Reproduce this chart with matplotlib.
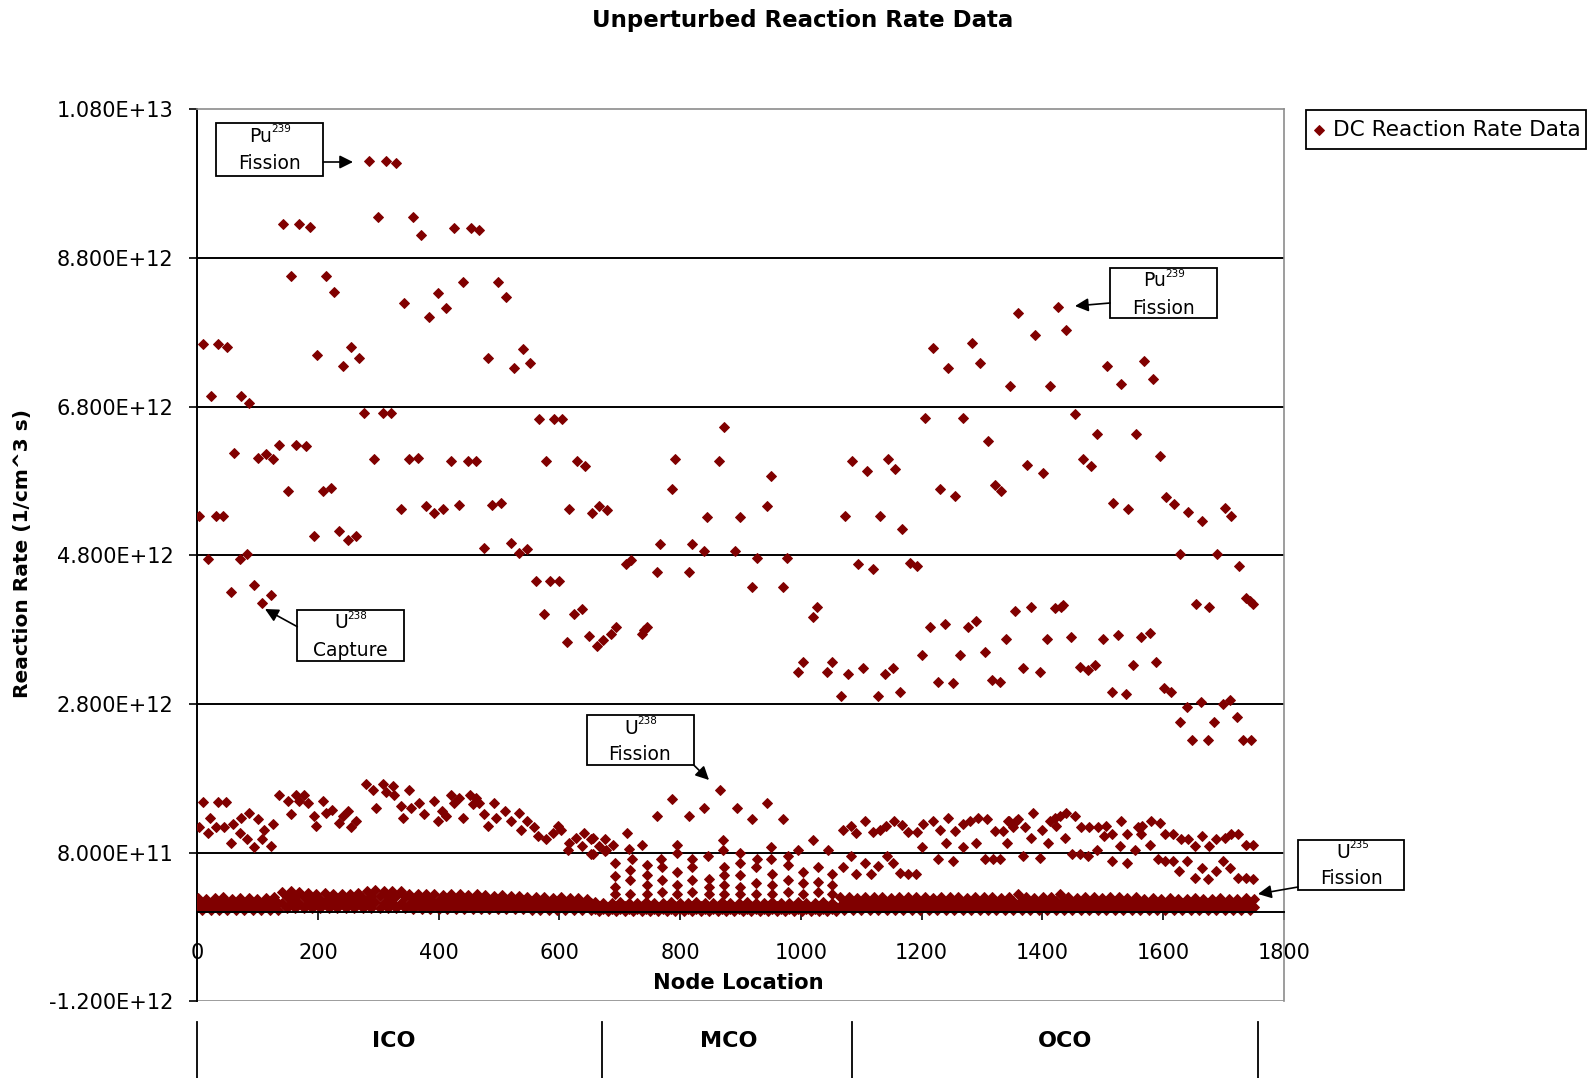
import numpy as np
import matplotlib
matplotlib.use("Agg")
import matplotlib.pyplot as plt
from matplotlib.patches import Rectangle

# ---------------------------------------------------------------------------
# Reaction rates, in units of 1E12 1/(cm^3 s), keyed by node location
# ---------------------------------------------------------------------------
# Pu-239 fission and U-238 capture rates (upper cloud)
ico_upper = [
    (285, 10.11), (313, 10.11), (329, 10.07),
    (142, 9.26), (169, 9.26), (186, 9.22), (299, 9.35), (357, 9.35), (371, 9.11),
    (425, 9.20), (453, 9.20), (467, 9.17),
    (155, 8.56), (213, 8.56), (227, 8.34), (343, 8.20), (398, 8.33), (412, 8.12), (384, 8.01),
    (440, 8.48), (498, 8.48), (511, 8.28),
    (9, 7.64), (34, 7.64), (49, 7.60), (199, 7.49), (255, 7.60), (268, 7.46), (241, 7.35),
    (481, 7.46), (539, 7.57), (552, 7.39), (525, 7.32),
    (23, 6.94), (72, 6.94), (86, 6.85), (277, 6.72), (307, 6.72), (321, 6.72),
    (566, 6.63), (591, 6.63), (605, 6.63),
    (61, 6.18), (100, 6.11), (114, 6.16), (125, 6.09), (136, 6.29), (164, 6.29), (180, 6.27),
    (293, 6.09), (351, 6.09), (365, 6.11), (420, 6.07), (448, 6.07), (462, 6.07),
    (577, 6.07), (629, 6.07), (643, 6.00),
    (150, 5.66), (208, 5.66), (222, 5.71), (3, 5.33), (31, 5.33), (43, 5.33),
    (194, 5.06), (235, 5.13), (249, 5.00), (263, 5.06),
    (337, 5.42), (379, 5.46), (393, 5.37), (407, 5.42), (434, 5.48), (489, 5.48), (503, 5.51),
    (616, 5.42), (654, 5.37), (665, 5.46), (678, 5.41),
    (17, 4.75), (70, 4.75), (82, 4.82), (475, 4.90), (520, 4.97), (533, 4.83), (547, 4.88),
    (56, 4.31), (94, 4.40), (122, 4.26), (108, 4.16),
    (561, 4.45), (585, 4.45), (599, 4.45), (574, 4.01), (624, 4.01), (638, 4.08),
    (613, 3.63), (649, 3.72), (663, 3.58), (673, 3.66),
]
mco_upper = [
    (686, 3.74), (694, 3.84), (736, 3.74), (745, 3.84), (740, 3.79),
    (710, 4.68), (718, 4.74), (761, 4.57), (814, 4.57),
    (767, 4.95), (819, 4.95), (839, 4.86), (891, 4.86), (927, 4.77), (977, 4.77),
    (919, 4.37), (971, 4.37), (844, 5.31), (899, 5.31),
    (787, 5.69), (792, 6.09), (864, 6.07), (872, 6.52), (944, 5.46), (951, 5.87),
    (1026, 4.10), (1020, 3.97), (1004, 3.37), (996, 3.23), (1051, 3.37), (1043, 3.23),
]
oco_upper = [
    (1078, 3.21), (1103, 3.28), (1139, 3.21), (1153, 3.28),
    (1067, 2.91), (1128, 2.91), (1164, 2.96),
    (1200, 3.46), (1214, 3.84), (1239, 3.88), (1227, 3.10), (1252, 3.08), (1263, 3.46),
    (1277, 3.84), (1291, 3.91), (1305, 3.50), (1316, 3.12), (1330, 3.10), (1340, 3.68),
    (1073, 5.33), (1131, 5.33), (1167, 5.15),
    (1095, 4.68), (1120, 4.61), (1181, 4.70), (1193, 4.66),
    (1084, 6.07), (1109, 5.93), (1145, 6.09), (1156, 5.96),
    (1230, 5.69), (1255, 5.60), (1321, 5.75), (1332, 5.66),
    (1205, 6.65), (1269, 6.65), (1310, 6.34),
    (1219, 7.59), (1283, 7.66), (1244, 7.32), (1297, 7.39),
    (1346, 7.08), (1360, 8.06), (1426, 8.14), (1388, 7.76), (1440, 7.83), (1412, 7.08),
    (1507, 7.35), (1569, 7.41), (1531, 7.10), (1584, 7.17),
    (1454, 6.70), (1491, 6.43), (1555, 6.43), (1595, 6.13),
    (1374, 6.02), (1401, 5.91), (1467, 6.09), (1480, 6.00),
    (1517, 5.51), (1542, 5.42), (1605, 5.58), (1618, 5.49), (1642, 5.38), (1665, 5.26),
    (1702, 5.44), (1713, 5.33),
    (1629, 4.82), (1690, 4.82), (1726, 4.66),
    (1737, 4.22), (1744, 4.19), (1749, 4.15), (1654, 4.15), (1676, 4.10),
    (1355, 4.05), (1382, 4.10), (1421, 4.09), (1431, 4.11), (1434, 4.13),
    (1407, 3.68), (1448, 3.70), (1501, 3.68), (1526, 3.73), (1564, 3.70), (1578, 3.75),
    (1368, 3.28), (1396, 3.23), (1462, 3.30), (1476, 3.26), (1487, 3.32), (1550, 3.32), (1589, 3.37),
    (1515, 2.96), (1538, 2.94), (1602, 3.02), (1614, 2.96),
    (1639, 2.76), (1663, 2.83), (1700, 2.80), (1711, 2.85),
    (1628, 2.56), (1685, 2.56), (1722, 2.63),
    (1648, 2.31), (1675, 2.31), (1732, 2.31), (1746, 2.31),
]

# U-238 fission rates (middle band)
ico_u238f = [
    (9, 1.48), (34, 1.48), (48, 1.48), (21, 1.27), (3, 1.14), (17, 1.07), (31, 1.14), (45, 1.14),
    (59, 1.18), (56, 0.93), (72, 1.27), (86, 1.34), (100, 1.25), (70, 1.07), (83, 0.98), (94, 0.87),
    (108, 0.98), (111, 1.11), (122, 0.89), (125, 1.18),
    (136, 1.58), (150, 1.49), (163, 1.58), (177, 1.58), (155, 1.32), (169, 1.49), (183, 1.47),
    (208, 1.49), (194, 1.29), (197, 1.16), (213, 1.34), (224, 1.38), (235, 1.20), (249, 1.36),
    (255, 1.14), (263, 1.23), (241, 1.29),
    (279, 1.72), (291, 1.65), (307, 1.72), (324, 1.70), (313, 1.61), (326, 1.58), (296, 1.40),
    (351, 1.65), (337, 1.43), (340, 1.27), (354, 1.40), (368, 1.47), (376, 1.32), (393, 1.49),
    (398, 1.23), (406, 1.36), (412, 1.29),
    (420, 1.58), (426, 1.47), (434, 1.54), (451, 1.58), (462, 1.54), (456, 1.45), (467, 1.47),
    (440, 1.27), (475, 1.32), (481, 1.16), (492, 1.47), (495, 1.27), (509, 1.36), (520, 1.23),
    (533, 1.34), (536, 1.11), (547, 1.23),
    (558, 1.14), (564, 1.02), (578, 0.98), (589, 1.07), (597, 1.16), (602, 1.11), (616, 0.93),
    (614, 0.84), (627, 1.00), (641, 1.07), (638, 0.89), (652, 0.98), (652, 0.78), (666, 0.89),
    (677, 0.84),
]
mco_u238f = [
    (866, 1.65), (786, 1.52), (839, 1.40), (894, 1.40), (944, 1.47), (971, 1.25), (761, 1.29),
    (814, 1.29), (919, 1.25),
    (656, 1.00), (675, 0.98), (689, 0.91), (655, 0.78), (675, 0.82), (712, 1.07), (737, 0.91),
    (715, 0.85), (720, 0.72),
    (794, 0.90), (794, 0.79), (769, 0.72), (819, 0.72), (846, 0.75), (871, 0.97), (871, 0.84),
    (899, 0.79), (927, 0.72), (951, 0.88), (951, 0.72), (979, 0.75), (996, 0.84), (1020, 0.97),
    (1045, 0.84),
]
mco_low = [
    (692, 0.66), (692, 0.48), (692, 0.34), (692, 0.25), (717, 0.57), (717, 0.43), (717, 0.25),
    (745, 0.63), (745, 0.50), (745, 0.36), (745, 0.25), (770, 0.61), (770, 0.43), (770, 0.27),
    (795, 0.54), (795, 0.36), (795, 0.25), (819, 0.61), (819, 0.43), (819, 0.27),
    (848, 0.45), (848, 0.34), (848, 0.25), (873, 0.61), (873, 0.50), (873, 0.36), (873, 0.25),
    (899, 0.66), (899, 0.50), (899, 0.34), (899, 0.25), (926, 0.61), (926, 0.39), (926, 0.25),
    (952, 0.52), (952, 0.36), (952, 0.25), (979, 0.63), (979, 0.43), (979, 0.27),
    (1004, 0.54), (1004, 0.39), (1004, 0.25), (1029, 0.61), (1029, 0.41), (1029, 0.27),
    (1052, 0.52), (1052, 0.36), (1052, 0.25),
]
oco_u238f = [
    (1069, 1.11), (1083, 1.16), (1092, 1.06), (1106, 1.23), (1120, 1.08), (1131, 1.11),
    (1141, 1.16), (1155, 1.23), (1167, 1.17), (1178, 1.08), (1192, 1.08), (1203, 1.18),
    (1219, 1.22), (1230, 1.10), (1244, 1.27), (1255, 1.09), (1269, 1.18), (1280, 1.23),
    (1293, 1.27), (1308, 1.25), (1321, 1.09), (1335, 1.09), (1343, 1.23),
    (1345, 1.23), (1357, 1.23), (1351, 1.14), (1360, 1.25), (1371, 1.14), (1385, 1.34),
    (1399, 1.11), (1382, 1.00), (1341, 0.93), (1409, 0.93), (1412, 1.23), (1421, 1.27),
    (1429, 1.29), (1422, 1.16), (1439, 1.34), (1454, 1.29), (1437, 1.00), (1464, 1.14),
    (1478, 1.14), (1492, 1.14), (1505, 1.16), (1502, 1.02), (1516, 1.05), (1531, 1.23),
    (1541, 1.05), (1558, 1.14), (1566, 1.16), (1563, 1.05), (1580, 1.23), (1595, 1.20),
    (1604, 1.05), (1617, 1.05), (1630, 0.98), (1641, 0.98), (1653, 0.89), (1665, 1.02),
    (1677, 0.89), (1688, 0.98), (1702, 1.00), (1713, 1.05), (1724, 1.05), (1738, 0.91),
    (1749, 0.91),
    (1070, 0.61), (1083, 0.75), (1092, 0.51), (1106, 0.66), (1117, 0.51), (1128, 0.62),
    (1142, 0.75), (1153, 0.66), (1164, 0.53), (1178, 0.51), (1190, 0.51), (1200, 0.87),
    (1227, 0.71), (1240, 0.93), (1252, 0.69), (1268, 0.87), (1291, 0.93), (1305, 0.71),
    (1318, 0.71), (1330, 0.71),
    (1368, 0.75), (1396, 0.73), (1450, 0.78), (1462, 0.78), (1476, 0.75), (1490, 0.84),
    (1515, 0.69), (1529, 0.89), (1540, 0.66), (1554, 0.84), (1578, 0.91), (1591, 0.71),
    (1603, 0.69), (1617, 0.69), (1627, 0.55), (1639, 0.69), (1653, 0.46), (1664, 0.60),
    (1675, 0.44), (1688, 0.55), (1699, 0.69), (1711, 0.60), (1724, 0.46), (1738, 0.46),
    (1749, 0.44),
]

# Low-rate band (U-235 fission and minor reactions), sampled on two interleaved node sets
band_nodes_a = list(range(1, 1752, 14))
band_nodes_b = list(range(8, 1745, 14))
u235_fission = [
    .19, .18, .19, .20, .18, .19, .19, .18, .19, .20,
    .27, .28, .27, .26,
    .25, .26, .25, .24, .25, .26,
    .29, .30, .28, .29, .28,
    .25, .24, .25, .24, .23, .24, .24, .23, .24, .23, .22, .23, .22, .22,
    .21, .20, .20, .19, .20, .19, .19, .18,
    .14, .13, .13, .14, .13, .13, .14, .13, .13, .14, .13, .13, .14, .13, .13,
    .14, .13, .13, .14, .13, .13, .14, .13, .13, .14, .13, .13, .14, .13,
    .20, .21, .19, .20, .21, .20, .19, .20, .21, .20, .20, .19, .21, .20, .20, .19, .20, .21,
    .20, .19, .21, .24, .20, .19, .20, .21, .24, .20, .19, .20, .20, .19, .21, .20,
    .19, .20, .18, .19, .18, .19, .18, .18, .19, .18, .18, .19, .18, .18, .19, .18,
]
u235_capture = [
    .13, .12, .13, .13, .12, .13, .13, .12, .13, .13,
    .20, .21, .20, .19,
    .18, .19, .18, .18, .19, .19,
    .22, .22, .21, .22, .21,
    .18, .18, .18, .17, .17, .18, .17, .17, .17, .17, .16, .16, .16, .16,
    .15, .14, .14, .14, .14, .13, .13, .13,
    .08, .07, .08, .08, .07, .08, .08, .07, .08, .08, .07, .08, .08, .07, .08,
    .08, .07, .08, .08, .07, .08, .08, .07, .08, .08, .07, .08, .08, .07,
    .14, .14, .13, .14, .15, .14, .13, .14, .14, .14, .15, .13, .14, .14, .14, .13, .14, .15,
    .14, .13, .15, .17, .14, .13, .14, .15, .17, .14, .13, .14, .14, .13, .15, .14,
    .13, .14, .12, .13, .12, .13, .12, .12, .13, .12, .12, .13, .12, .12, .13,
]
pu240_capture = [
    .07, .07, .07, .07, .07, .07, .07, .07, .07, .07,
    .13, .13, .13, .13,
    .13, .13, .13, .13, .13, .13,
    .14, .14, .13, .14, .13,
    .11, .11, .11, .11, .11, .11, .11, .11, .11, .11, .11, .11, .11, .11,
    .08, .08, .08, .08, .08, .08, .08, .08,
    .04, .04, .04, .04, .04, .04, .04, .04, .04, .04, .04, .04, .04, .04, .04,
    .04, .04, .04, .04, .04, .04, .04, .04, .04, .04, .04, .04, .04, .04,
    .08, .08, .08, .08, .08, .08, .08, .08, .08, .08, .08, .08, .08, .08, .08, .08, .08, .08,
    .08, .08, .08, .09, .08, .08, .08, .08, .09, .08, .08, .08, .08, .08, .08, .08,
    .08, .08, .07, .08, .07, .08, .07, .07, .08, .07, .07, .08, .07, .07, .08, .07,
]
pu241_fission = [
    .03, .03, .03, .03, .03, .03, .03, .03, .03, .03,
    .05, .05, .05, .05,
    .05, .05, .05, .05, .05, .05,
    .05, .05, .05, .05, .05,
    .04, .04, .04, .04, .04, .04, .04, .04, .04, .04, .04, .04, .04, .04,
    .03, .03, .03, .03, .03, .03, .03, .03,
    .02, .02, .02, .02, .02, .02, .02, .02, .02, .02, .02, .02, .02, .02, .02,
    .02, .02, .02, .02, .02, .02, .02, .02, .02, .02, .02, .02, .02, .02,
    .03, .03, .03, .03, .03, .03, .03, .03, .03, .03, .03, .03, .03, .03, .03, .03, .03, .03,
    .03, .03, .03, .03, .03, .03, .03, .03, .03, .03, .03, .03, .03, .03, .03, .03,
    .03, .03, .03, .03, .03, .03, .03, .03, .03, .03, .03, .03, .03, .03, .03,
]

y_ticks = [-1.2, 0.8, 2.8, 4.8, 6.8, 8.8, 10.8]
x_ticks = [0, 200, 400, 600, 800, 1000, 1200, 1400, 1600, 1800]
regions = ["ICO", "MCO", "OCO"]

SCALE = 1e12
MARK = "#800000"
MS, MEW = 5.0, 0.7

# ---------------------------------------------------------------------------
W, H = 1595, 1078
fig = plt.figure(figsize=(W / 100, H / 100), dpi=100)
plt.rcParams["font.family"] = ["DejaVu Sans"]

x0, x1, ytop, ybot = 197.3, 1283.7, 109.2, 1001.4
ax = fig.add_axes([x0 / W, 1 - ybot / H, (x1 - x0) / W, (ybot - ytop) / H])
ax.set_xlim(0, 1800)
ax.set_ylim(y_ticks[0] * SCALE, y_ticks[-1] * SCALE)

# horizontal gridlines on the inner ticks
for v in y_ticks[1:-1]:
    ax.axhline(v * SCALE, color="black", lw=1.4, zorder=1)
ax.axhline(y_ticks[0] * SCALE, color="#8c8c8c", lw=1.2, zorder=1)

def draw(points):
    n = [p[0] for p in points]
    r = [p[1] * SCALE for p in points]
    ax.plot(n, r, ls="none", marker="D", ms=MS, mew=MEW, color=MARK, mec=MARK, zorder=3)

band_a = [(n, v) for n, v in zip(band_nodes_a, u235_fission)] + \
         [(n, v) for n, v in zip(band_nodes_a, pu240_capture)]
band_b = [(n, v) for n, v in zip(band_nodes_b, u235_capture)] + \
         [(n, v) for n, v in zip(band_nodes_b, pu241_fission)]
for group in (band_a, band_b, mco_low, ico_u238f, mco_u238f, oco_u238f,
              ico_upper, mco_upper, oco_upper):
    draw(group)

for s in ("top", "right"):
    ax.spines[s].set_color("#8c8c8c")
    ax.spines[s].set_linewidth(1.2)
ax.spines["left"].set_color("black")
ax.spines["left"].set_linewidth(1.4)
ax.spines["bottom"].set_position(("data", 0))
ax.spines["bottom"].set_linewidth(1.4)
ax.spines["bottom"].set_zorder(4)

ax.set_yticks([v * SCALE for v in y_ticks])
ax.set_yticklabels([f"{v * SCALE:.3E}" for v in y_ticks])
ax.set_xticks(x_ticks)
ax.set_xticklabels([str(v) for v in x_ticks])
ax.tick_params(axis="y", direction="out", length=6, width=1.2, pad=11, labelsize=15)
ax.tick_params(axis="x", direction="out", length=6, width=1.2, pad=16, labelsize=15)

# ---------------------------------------------------------------------------
# Overlay in pixel coordinates for title, labels, callouts and region table
ov = fig.add_axes([0, 0, 1, 1], zorder=5)
ov.set_xlim(0, W)
ov.set_ylim(H, 0)
ov.axis("off")

ov.text(802.6, 20.3, "Unperturbed Reaction Rate Data", ha="center", va="center",
        fontsize=16.5, fontweight="bold")
ov.text(22.4, 554, "Reaction Rate (1/cm^3 s)", ha="center", va="center",
        rotation=90, fontsize=14.5, fontweight="bold")
ov.text(738.5, 982.6, "Node Location", ha="center", va="center",
        fontsize=15.2, fontweight="bold")

def callout(box, iso, iso_xy, label, label_xy, start, tip):
    bx0, by0, bx1, by1 = box
    ov.add_patch(Rectangle((bx0, by0), bx1 - bx0, by1 - by0, facecolor="white",
                           edgecolor="black", lw=1.3, zorder=6))
    ov.text(iso_xy[0], iso_xy[1], iso[0], ha="right", va="center",
            fontsize=13.5, zorder=7)
    ov.text(iso_xy[0] - 0.5, iso_xy[1] - 7, iso[1], ha="left", va="center",
            fontsize=7.5, zorder=7)
    ov.text(*label_xy, label, ha="center", va="center", fontsize=13.5, zorder=7)
    ov.annotate("", xy=tip, xytext=start, zorder=7,
                arrowprops=dict(arrowstyle="-|>", color="black", lw=1.2,
                                mutation_scale=20, shrinkA=0, shrinkB=0))

callout((216, 123.3, 323.3, 176), ("Pu", "239"), (272, 136.5),
        "Fission", (269, 163.5), (323.3, 162), (353, 162))
callout((1110, 268.3, 1216.7, 318.3), ("Pu", "239"), (1166, 281),
        "Fission", (1163, 308), (1110, 303), (1075, 306))
callout((297.3, 610, 404.3, 660.7), ("U", "238"), (348, 623),
        "Capture", (350, 650), (297.3, 626.7), (265, 609))
callout((587, 715, 693.7, 765), ("U", "238"), (638, 728.3),
        "Fission", (640, 754.8), (693.7, 765), (709, 780))
callout((1298, 840, 1404, 890), ("U", "235"), (1350, 852.4),
        "Fission", (1351, 879), (1298, 887), (1258, 894))

# legend box
leg = Rectangle((1306, 110), 280, 39.3, facecolor="white", edgecolor="black",
                lw=1.3, zorder=6)
ov.add_patch(leg)
ov.plot([1319.3], [130], ls="none", marker="D", ms=MS, mew=MEW, color=MARK, zorder=7)
ov.text(1333, 130, "DC Reaction Rate Data", ha="left", va="center",
        fontsize=15.6, zorder=7)

# region table under the chart
for xv in (197.3, 602.2, 852.4, 1258.3):
    ov.plot([xv, xv], [1022, 1078], color="black", lw=1.3)
for name, xc in zip(regions, (393.7, 728.3, 1065)):
    ov.text(xc, 1040.6, name, ha="center", va="center", fontsize=16, fontweight="bold")

fig.savefig("out.png", dpi=100)
